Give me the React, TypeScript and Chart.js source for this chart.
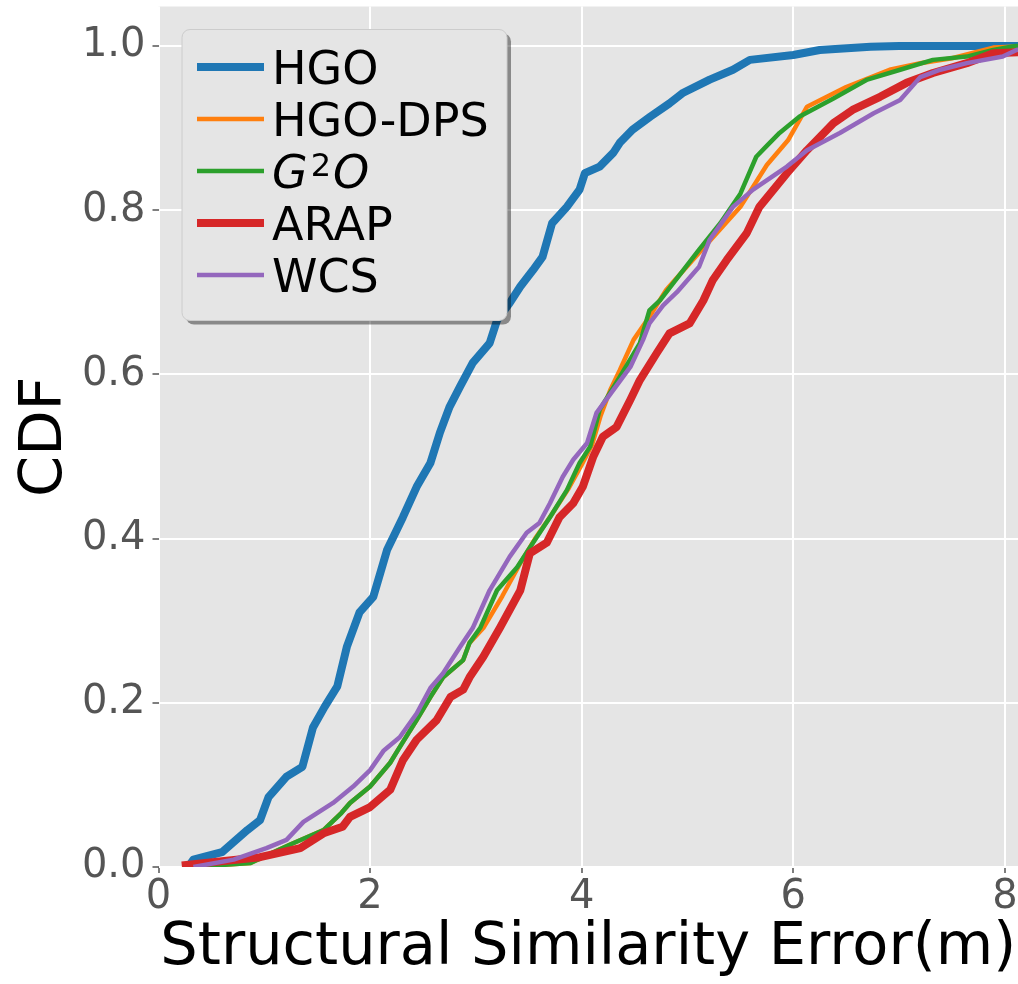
import React, { useEffect, useRef } from 'react';
import { Chart, registerables } from 'chart.js';

Chart.register(...registerables);

const FONT = '"DejaVu Sans", "Liberation Sans", sans-serif';

const X_TITLE = 'Structural Similarity Error(m)';
const Y_TITLE = 'CDF';
const X_TICKS = [0, 2, 4, 6, 8];
const Y_TICKS = [0, 0.2, 0.4, 0.6, 0.8, 1.0];

const SERIES_NAMES = ['HGO', 'HGO-DPS', 'G2O', 'ARAP', 'WCS'];
const SERIES_COLORS = ['#1f77b4', '#ff7f0e', '#2ca02c', '#d62728', '#9467bd'];
const SERIES_WIDTHS = [8, 4.5, 4.5, 8, 4.5];

const HGO_X = [0.28, 0.33, 0.6, 0.84, 0.96, 1.04, 1.21, 1.36, 1.46, 1.57, 1.69, 1.78, 1.9, 2.03, 2.16, 2.31, 2.44, 2.57, 2.66, 2.75, 2.85, 2.97, 3.13, 3.2, 3.32, 3.42, 3.54, 3.63, 3.72, 3.86, 3.98, 4.03, 4.17, 4.3, 4.36, 4.48, 4.65, 4.83, 4.96, 5.21, 5.43, 5.59, 6.0, 6.25, 6.73, 7.0, 8.3];
const HGO_Y = [0, 0.009, 0.018, 0.045, 0.057, 0.085, 0.11, 0.122, 0.17, 0.195, 0.22, 0.268, 0.31, 0.329, 0.386, 0.426, 0.463, 0.492, 0.529, 0.56, 0.585, 0.614, 0.638, 0.666, 0.687, 0.707, 0.727, 0.743, 0.784, 0.804, 0.825, 0.845, 0.853, 0.87, 0.882, 0.898, 0.914, 0.93, 0.943, 0.959, 0.971, 0.983, 0.989, 0.995, 0.999, 1.0, 1.0];

const DPS_X = [0.33, 0.87, 1.24, 1.56, 1.73, 1.81, 2.0, 2.19, 2.28, 2.44, 2.57, 2.69, 2.88, 2.94, 3.07, 3.25, 3.42, 3.57, 3.72, 3.88, 4.0, 4.1, 4.18, 4.27, 4.36, 4.49, 4.64, 4.8, 5.11, 5.5, 5.75, 5.95, 6.13, 6.5, 6.91, 7.2, 7.5, 7.89, 8.3];
const DPS_Y = [0, 0.005, 0.027, 0.045, 0.066, 0.078, 0.098, 0.127, 0.146, 0.179, 0.207, 0.231, 0.252, 0.273, 0.291, 0.33, 0.37, 0.402, 0.43, 0.462, 0.49, 0.515, 0.55, 0.581, 0.605, 0.642, 0.67, 0.703, 0.748, 0.804, 0.855, 0.885, 0.926, 0.95, 0.971, 0.979, 0.985, 0.998, 1.0];

const G2O_X = [0.33, 0.87, 1.24, 1.56, 1.73, 1.81, 2.0, 2.19, 2.28, 2.44, 2.57, 2.69, 2.88, 2.94, 3.04, 3.2, 3.39, 3.54, 3.7, 3.86, 3.98, 4.08, 4.17, 4.36, 4.55, 4.64, 4.74, 5.11, 5.31, 5.5, 5.65, 5.74, 5.87, 6.06, 6.38, 6.7, 7.01, 7.32, 7.64, 7.89, 8.1, 8.3];
const G2O_Y = [0, 0.005, 0.027, 0.045, 0.066, 0.078, 0.098, 0.127, 0.146, 0.179, 0.207, 0.231, 0.252, 0.273, 0.291, 0.337, 0.365, 0.395, 0.426, 0.459, 0.492, 0.512, 0.557, 0.597, 0.638, 0.678, 0.69, 0.752, 0.784, 0.82, 0.865, 0.877, 0.894, 0.914, 0.936, 0.959, 0.971, 0.983, 0.987, 0.995, 1.0, 1.0];

const ARAP_X = [0.22, 0.96, 1.34, 1.56, 1.74, 1.81, 2.0, 2.19, 2.31, 2.44, 2.63, 2.76, 2.88, 2.94, 3.07, 3.23, 3.42, 3.51, 3.67, 3.79, 3.92, 4.01, 4.11, 4.2, 4.33, 4.46, 4.55, 4.71, 4.83, 5.02, 5.15, 5.24, 5.37, 5.56, 5.68, 5.94, 6.13, 6.38, 6.56, 6.82, 7.07, 7.32, 7.64, 7.89, 8.3];
const ARAP_Y = [0.002, 0.012, 0.023, 0.041, 0.049, 0.061, 0.073, 0.094, 0.13, 0.155, 0.179, 0.207, 0.216, 0.231, 0.256, 0.292, 0.337, 0.382, 0.395, 0.426, 0.443, 0.463, 0.5, 0.524, 0.536, 0.569, 0.593, 0.626, 0.65, 0.662, 0.69, 0.715, 0.739, 0.772, 0.804, 0.845, 0.873, 0.906, 0.922, 0.938, 0.955, 0.967, 0.979, 0.991, 0.993];

const WCS_X = [0.33, 0.71, 1.02, 1.21, 1.37, 1.65, 1.84, 2.0, 2.13, 2.28, 2.44, 2.57, 2.69, 2.85, 2.97, 3.13, 3.32, 3.48, 3.6, 3.7, 3.82, 3.92, 4.05, 4.14, 4.3, 4.46, 4.58, 4.64, 4.77, 4.9, 5.11, 5.21, 5.43, 5.62, 5.94, 6.13, 6.44, 6.76, 7.01, 7.2, 7.39, 7.64, 7.98, 8.11, 8.3];
const WCS_Y = [0, 0.009, 0.023, 0.033, 0.055, 0.078, 0.098, 0.118, 0.142, 0.158, 0.187, 0.218, 0.236, 0.268, 0.291, 0.337, 0.378, 0.407, 0.419, 0.443, 0.475, 0.496, 0.516, 0.553, 0.581, 0.609, 0.642, 0.662, 0.684, 0.7, 0.731, 0.764, 0.804, 0.825, 0.853, 0.873, 0.894, 0.918, 0.934, 0.962, 0.971, 0.979, 0.987, 0.995, 1.0];

const SERIES_X = [HGO_X, DPS_X, G2O_X, ARAP_X, WCS_X];
const SERIES_Y = [HGO_Y, DPS_Y, G2O_Y, ARAP_Y, WCS_Y];

const zip = (xs: number[], ys: number[]) => xs.map((x, i) => ({ x, y: ys[i] }));

function roundRect(ctx: CanvasRenderingContext2D, x: number, y: number, w: number, h: number, r: number) {
  ctx.beginPath();
  ctx.moveTo(x + r, y);
  ctx.lineTo(x + w - r, y);
  ctx.arcTo(x + w, y, x + w, y + r, r);
  ctx.lineTo(x + w, y + h - r);
  ctx.arcTo(x + w, y + h, x + w - r, y + h, r);
  ctx.lineTo(x + r, y + h);
  ctx.arcTo(x, y + h, x, y + h - r, r);
  ctx.lineTo(x, y + r);
  ctx.arcTo(x, y, x + r, y, r);
  ctx.closePath();
}

const bgPlugin = {
  id: 'ggBackground',
  beforeDraw(chart: any) {
    const { ctx, chartArea } = chart;
    ctx.save();
    ctx.fillStyle = '#ffffff';
    ctx.fillRect(0, 0, chart.width, chart.height);
    ctx.fillStyle = '#e5e5e5';
    ctx.fillRect(chartArea.left, chartArea.top, chartArea.right - chartArea.left, chartArea.bottom - chartArea.top);
    ctx.restore();
  },
};

const legendPlugin = {
  id: 'mplLegend',
  afterDraw(chart: any) {
    const ctx: CanvasRenderingContext2D = chart.ctx;
    const x0 = 182, y0 = 29.5, w = 325, h = 291, r = 8;
    ctx.save();
    ctx.fillStyle = 'rgba(0,0,0,0.4)';
    roundRect(ctx, x0 + 4, y0 + 4, w, h, r);
    ctx.fill();
    ctx.fillStyle = '#e5e5e5';
    roundRect(ctx, x0, y0, w, h, r);
    ctx.fill();
    ctx.strokeStyle = '#cccccc';
    ctx.lineWidth = 1;
    ctx.stroke();

    const rowY0 = 67, rowStep = 52;
    const fs = 46;
    SERIES_NAMES.forEach((name, i) => {
      const cy = rowY0 + i * rowStep;
      ctx.strokeStyle = SERIES_COLORS[i];
      ctx.lineWidth = SERIES_WIDTHS[i];
      ctx.lineCap = 'butt';
      ctx.beginPath();
      ctx.moveTo(197, cy);
      ctx.lineTo(264, cy);
      ctx.stroke();
      const base = cy + 16.5;
      ctx.fillStyle = '#000000';
      ctx.textBaseline = 'alphabetic';
      ctx.textAlign = 'left';
      const tx = 272;
      if (name === 'G2O') {
        ctx.font = `italic ${fs}px ${FONT}`;
        ctx.fillText('G', tx, base);
        const wG = ctx.measureText('G').width;
        ctx.font = `32px ${FONT}`;
        const sx = tx + wG + 3;
        ctx.fillText('2', sx, base - 12);
        const w2 = ctx.measureText('2').width;
        ctx.font = `italic ${fs}px ${FONT}`;
        ctx.fillText('O', sx + w2 + 2, base);
      } else {
        ctx.font = `${fs}px ${FONT}`;
        ctx.fillText(name, tx, base);
      }
    });
    ctx.restore();
  },
};

export default function App() {
  const ref = useRef<HTMLCanvasElement>(null);
  useEffect(() => {
    const canvas = ref.current!;
    const datasets = SERIES_NAMES.map((name, i) => ({
      label: name,
      data: zip(SERIES_X[i], SERIES_Y[i]),
      borderColor: SERIES_COLORS[i],
      backgroundColor: SERIES_COLORS[i],
      borderWidth: SERIES_WIDTHS[i],
      pointRadius: 0,
      tension: 0,
      fill: false,
      borderJoinStyle: 'round' as const,
      borderCapStyle: 'butt' as const,
      order: SERIES_NAMES.length - i,
    }));
    const tickFont = { family: FONT, size: 40 };
    const titleFont = { family: FONT, size: 59 };
    const chart = new Chart(canvas, {
      type: 'line',
      data: { datasets },
      plugins: [bgPlugin, legendPlugin],
      options: {
        animation: false,
        responsive: false,
        devicePixelRatio: 1,
        layout: { padding: { top: 6.5, right: 0, left: 0, bottom: 0 } },
        plugins: { legend: { display: false }, tooltip: { enabled: false } },
        scales: {
          x: {
            type: 'linear',
            min: 0,
            max: 8.124,
            border: { display: false },
            grid: { color: '#ffffff', lineWidth: 2, drawTicks: true, tickLength: 6, tickColor: '#555555', tickWidth: 1.5 },
            afterBuildTicks: (s: any) => { s.ticks = X_TICKS.map((v) => ({ value: v })); },
            ticks: {
              font: tickFont,
              color: '#555555',
              padding: 1,
              maxRotation: 0,
              autoSkip: false,
              callback: (v: any) => String(v),
            },
            title: { display: true, text: X_TITLE, font: titleFont, color: '#000000', padding: { top: 0, bottom: 0 } },
            afterFit: (s: any) => { s.height = 117; s.paddingLeft = 0; s.paddingRight = 0; s.paddingTop = 0; s.paddingBottom = 0; },
          },
          y: {
            type: 'linear',
            min: 0,
            max: 1.048,
            border: { display: false },
            grid: { color: '#ffffff', lineWidth: 2, drawTicks: true, tickLength: 6, tickColor: '#555555', tickWidth: 1.5 },
            afterBuildTicks: (s: any) => { s.ticks = Y_TICKS.map((v) => ({ value: v })); },
            ticks: {
              font: tickFont,
              color: '#555555',
              padding: 7,
              autoSkip: false,
              callback: (v: any) => Number(v).toFixed(1),
            },
            title: { display: true, text: Y_TITLE, font: titleFont, color: '#000000', padding: { top: 10, bottom: 0 } },
            afterFit: (s: any) => { s.width = 158.5; s.paddingTop = 0; s.paddingBottom = 0; s.paddingLeft = 0; s.paddingRight = 0; },
          },
        },
      },
    } as any);
    return () => chart.destroy();
  }, []);
  return (
    <div style={{ position: 'absolute', left: 0, top: 0, width: 1018, height: 984, overflow: 'hidden', background: '#ffffff' }}>
      <canvas ref={ref} width={1018} height={984} style={{ display: 'block' }} />
    </div>
  );
}
